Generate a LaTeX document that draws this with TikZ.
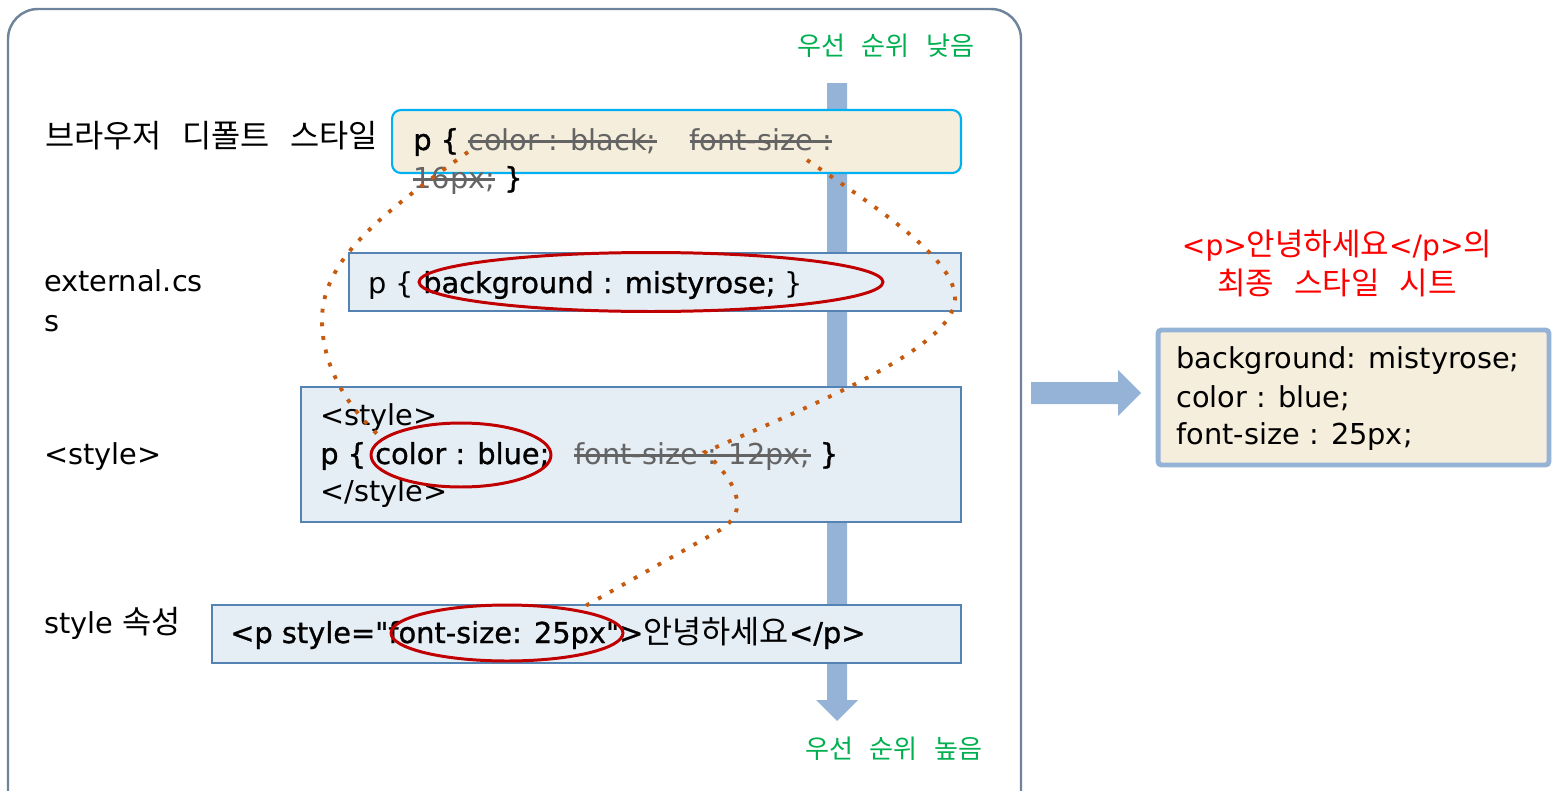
\documentclass[tikz,border=0pt]{standalone}
\usepackage{fontspec}
\setmainfont{DejaVu Sans}
\newfontfamily\kr[Scale=1.1,WordSpace=2.9]{Noto Sans CJK KR}
\newfontfamily\bfx[FakeBold=1]{DejaVu Sans}
\usetikzlibrary{shapes.geometric}
\definecolor{framegray}{RGB}{110,131,156}
\definecolor{arrowblue}{RGB}{149,179,215}
\definecolor{boxblue}{RGB}{230,238,245}
\definecolor{boxedge}{RGB}{84,130,178}
\definecolor{beige}{RGB}{246,238,220}
\definecolor{cyanedge}{RGB}{0,176,240}
\definecolor{circred}{RGB}{192,0,0}
\definecolor{dotbrown}{RGB}{197,90,17}
\definecolor{prgreen}{RGB}{0,176,80}
\definecolor{struck}{RGB}{100,100,100}
\newcommand{\strk}[1]{{\color{struck}\setbox0\hbox{#1}\rlap{\rule[0.42ex]{\wd0}{1.8pt}}\box0}}
\tikzstyle{frame}=[draw=framegray,line width=1.4pt,rounded corners=0.6cm]
\tikzstyle{cssbox}=[draw=boxedge,fill=boxblue,line width=0.9pt,inner sep=0pt]
\tikzstyle{defaultbox}=[draw=cyanedge,fill=beige,line width=1.2pt,rounded corners=5pt,inner sep=0pt]
\tikzstyle{resultbox}=[draw=arrowblue,fill=beige,line width=2.8pt,rounded corners=2pt,inner sep=0pt]
\tikzstyle{txt}=[anchor=base west,inner sep=0pt,font=\fontsize{16.4}{21}\selectfont]
\tikzstyle{hilite}=[draw=circred,ellipse,line width=1.7pt,inner sep=0pt]
\tikzstyle{cascade}=[draw=dotbrown,line width=2.2pt,dash pattern=on 2.2pt off 5.6pt]
\tikzstyle{prio}=[text=prgreen,anchor=base,inner sep=0pt,font=\kr\fontsize{13.5}{16}\selectfont]

\begin{document}
\begin{tikzpicture}[x=0.02cm,y=-0.02cm]
    \useasboundingbox (0,0) rectangle (1552,791);
    % outer frame, its bottom runs off the page
    \draw[frame] (8,9) rectangle (1021,830);

    % priority arrow, low at the top, high at the bottom
    \fill[arrowblue] (827,83) -- (847,83) -- (847,700) -- (858,700) -- (837,721)
        -- (816,700) -- (827,700) -- cycle;
    \node[prio] (low) at (886,55) {우선 순위 낮음};
    \node[prio] (high) at (894,758) {우선 순위 높음};

    % the four style sources
    \node[defaultbox,minimum width=11.38cm,minimum height=1.26cm] (dflt) at (676.5,141.5) {};
    \node[cssbox,minimum width=12.24cm,minimum height=1.16cm] (ext) at (655,282) {};
    \node[cssbox,minimum width=13.2cm,minimum height=2.7cm] (sty) at (631,454.5) {};
    \node[cssbox,minimum width=14.98cm,minimum height=1.16cm] (attr) at (586.5,634) {};

    % labels on the left
    \foreach \pos/\name/\lbl in {{(45,147)/ldflt/{\kr 브라우저 디폴트 스타일}},
        {(44,464)/lsty/{<style>}}, {(44,633)/lattr/{style {\kr 속성}}}}
        \node[txt] (\name) at \pos {\lbl};
    \node[txt,anchor=north west,align=left] (lext) at (44,269) {external.cs\\[2pt]s};

    % texts in the boxes
    \node[txt] (dflt1) at (413,150) {{\bfx p \{} \strk{color : black;}\hspace{0.66cm}\strk{font-size :}};
    \node[txt] (dflt2) at (413,188) {\strk{16px;} {\bfx \}}};
    \node[txt] (ext1) at (368,293) {p \{ {\bfx background : mistyrose;} \}};
    \node[txt] (sty1) at (320,425) {<style>};
    \node[txt] (sty2) at (320,464) {{\bfx p \{ color : blue;}\hspace{0.5cm}\strk{font-size : 12px;} {\bfx \}}};
    \node[txt] (sty3) at (320,501) {</style>};
    \node[txt] (attr1) at (230,643) {{\bfx <p style="font-size: 25px">}{\kr 안녕하세요}{\bfx </p>}};

    % winning declarations
    \node[hilite,minimum width=9.28cm,minimum height=1.18cm] (ell2) at (651,282) {};
    \node[hilite,minimum width=3.6cm,minimum height=1.28cm] (ell3) at (461,455) {};
    \node[hilite,minimum width=4.64cm,minimum height=1.12cm] (ell4) at (507,633) {};

    % overridden declarations
    \coordinate (blackstart) at (468,152);
    \coordinate (sizestart) at (807,160);
    \draw[cascade] (blackstart) .. controls (380,215) and (322,260) .. (322,320)
        .. controls (322,370) and (352,412) .. (ell3.168);
    \draw[cascade] (sizestart) .. controls (880,210) and (957,260) .. (955,300)
        .. controls (953,350) and (800,410) .. (705,452)
        .. controls (745,490) and (745,515) .. (720,530) -- (ell4.18);

    % result
    \fill[arrowblue] (1031,382) -- (1118,382) -- (1118,370) -- (1141,393)
        -- (1118,416) -- (1118,404) -- (1031,404) -- cycle;
    \node[red,anchor=north,align=center,inner sep=0pt,font=\fontsize{16}{22}\selectfont]
        (title) at (1337,230) {<p>{\kr 안녕하세요}</p>{\kr 의}\\{\kr 최종 스타일 시트}};
    \node[resultbox,minimum width=7.82cm,minimum height=2.7cm] (final) at (1353.5,397.5) {};
    \node[txt] (fin1) at (1176,368) {background: mistyrose;};
    \node[txt] (fin2) at (1176,407) {color : blue;};
    \node[txt] (fin3) at (1176,444) {font-size : 25px;};
\end{tikzpicture}
\end{document}
